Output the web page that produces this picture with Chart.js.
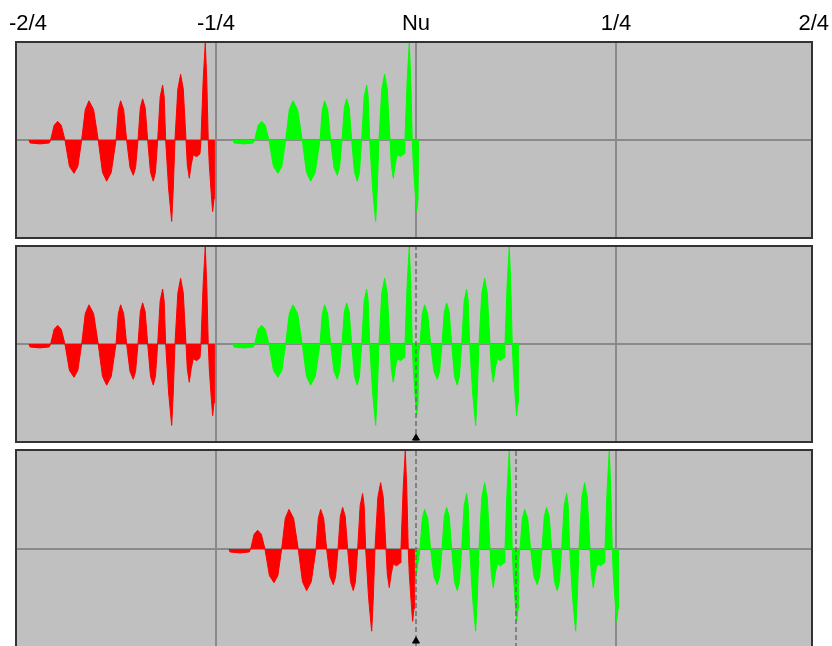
<!DOCTYPE html>
<html>
<head>
<meta charset="utf-8">
<script src="https://cdn.jsdelivr.net/npm/chart.js@4.4.1/dist/chart.umd.min.js"></script>
<style>
  html, body { margin: 0; padding: 0; background: #fff; overflow: hidden; }
  #wrap { position: relative; width: 832px; height: 646px; overflow: hidden; }
  .track { position: absolute; left: 0; }
</style>
</head>
<body>
<div id="wrap">
  <canvas id="track1" class="track" style="top:0" width="832" height="240"></canvas>
  <canvas id="track2" class="track" style="top:244px" width="832" height="200"></canvas>
  <canvas id="track3" class="track" style="top:448px" width="832" height="200"></canvas>
</div>
<script>
// ticks on the time ruler
const tickValues = [-0.5, -0.25, 0, 0.25, 0.5];
const tickLabels = ['-2/4', '-1/4', 'Nu', '1/4', '2/4'];

// the recorded clip: time from clip start and amplitude
const waveT = [0, 0.0013, 0.0138, 0.0254, 0.0271,
  0.0315, 0.0359, 0.0404, 0.0450,
  0.0506, 0.0563, 0.0611, 0.0659,
  0.0704, 0.0750, 0.0808, 0.0866,
  0.0919, 0.0971, 0.1029, 0.1088,
  0.1117, 0.1146, 0.1184, 0.1221,
  0.1263, 0.1304, 0.1333, 0.1363,
  0.1392, 0.1421, 0.1453, 0.1484,
  0.1519, 0.1554, 0.1581, 0.1609,
  0.1640, 0.1671, 0.1690, 0.1709,
  0.1746, 0.1784, 0.1804, 0.1825,
  0.1861, 0.1896, 0.1929, 0.1963,
  0.1979, 0.2004, 0.2029, 0.2054, 0.2096, 0.2138, 0.2150,
  0.2177, 0.2204, 0.2223, 0.2241,
  0.2254, 0.2279, 0.2296, 0.2313, 0.2321];
const waveA = [0, -0.03, -0.04, -0.03, 0,
  0.15, 0.19, 0.15, 0,
  -0.27, -0.34, -0.27, 0,
  0.31, 0.40, 0.31, 0,
  -0.33, -0.42, -0.33, 0,
  0.31, 0.40, 0.31, 0,
  -0.28, -0.36, -0.28, 0,
  0.33, 0.42, 0.33, 0,
  -0.33, -0.42, -0.33, 0,
  0.44, 0.56, 0.44, 0,
  -0.50, -0.83, -0.50, 0,
  0.52, 0.67, 0.52, 0,
  -0.25, -0.39, -0.25, -0.15, -0.17, -0.14, 0,
  0.60, 0.99, 0.60, 0,
  -0.25, -0.55, -0.73, -0.60, 0];
// repeated (looped) part of the clip starts here
const tailFrom = 0.1025;

// clip positions per track
const redStarts = [[-0.4838], [-0.4838], [-0.2338]];
const greenStarts = [[-0.2288], [-0.2288], []];
const greenTailStarts = [[], [-0.1038], [-0.1038, 0.0212]];
const dashLines = [[], [0], [0, 0.125]];
const markerX = [[], [0], [0]];
const markerY = [[], [-0.96], [-0.93]];

const RED = '#ff0000';
const GREEN = '#00ff00';
const GRID = '#8a8a8a';

function clipPoints(start, from) {
  const pts = [];
  waveT.forEach((t, i) => {
    if (t >= from) pts.push({ x: start + t, y: waveA[i] });
  });
  return pts;
}

function waveSet(pts, col) {
  return {
    data: pts, borderColor: col, backgroundColor: col, borderWidth: 1,
    fill: 'origin', pointRadius: 0, tension: 0
  };
}

// grey track background + dark frame
const panelFrame = {
  id: 'panelFrame',
  beforeDraw(chart) {
    const { ctx, chartArea: a } = chart;
    ctx.save();
    ctx.fillStyle = '#c0c0c0';
    ctx.fillRect(a.left, a.top, a.right - a.left, a.bottom - a.top);
    ctx.restore();
  },
  afterDraw(chart) {
    const { ctx, chartArea: a } = chart;
    ctx.save();
    ctx.strokeStyle = '#333333';
    ctx.lineWidth = 2;
    ctx.strokeRect(a.left, a.top, a.right - a.left, a.bottom - a.top);
    ctx.restore();
  }
};

// ruler labels above the first track, kept inside the canvas at the ends
const rulerLabels = {
  id: 'rulerLabels',
  afterDraw(chart) {
    const { ctx } = chart;
    const sx = chart.scales.x;
    ctx.save();
    ctx.font = '22px "Liberation Sans", Arial, sans-serif';
    ctx.fillStyle = '#000';
    ctx.textBaseline = 'alphabetic';
    tickValues.forEach((v, k) => {
      const w = ctx.measureText(tickLabels[k]).width;
      let left = sx.getPixelForValue(v) - w / 2;
      left = Math.max(9, Math.min(left, chart.width - 3 - w));
      ctx.fillText(tickLabels[k], left, 30);
    });
    ctx.restore();
  }
};

function makeTrack(id, i) {
  const first = i === 0;
  const datasets = [];

  // clip boundary markers and dashed lines on top
  markerX[i].forEach((x, k) => datasets.push({
    data: [{ x: x, y: markerY[i][k] }], showLine: false,
    pointStyle: 'triangle', pointRadius: 4,
    backgroundColor: '#000', borderColor: '#000'
  }));
  dashLines[i].forEach(x => datasets.push({
    data: [{ x: x, y: -1 }, { x: x, y: 1 }],
    borderColor: '#6e6e6e', borderWidth: 1.5, borderDash: [5, 3],
    pointRadius: 0, fill: false
  }));

  redStarts[i].forEach(s => datasets.push(waveSet(clipPoints(s, 0), RED)));
  greenStarts[i].forEach(s => datasets.push(waveSet(clipPoints(s, 0), GREEN)));
  greenTailStarts[i].forEach(s => datasets.push(waveSet(clipPoints(s, tailFrom), GREEN)));

  return new Chart(document.getElementById(id), {
    type: 'line',
    data: { datasets },
    options: {
      responsive: false,
      animation: false,
      layout: {
        autoPadding: false,
        padding: { left: 16, right: 20, top: first ? 0 : 2, bottom: i === 2 ? 0 : 2 }
      },
      plugins: { legend: { display: false }, tooltip: { enabled: false } },
      scales: {
        x: {
          type: 'linear', position: 'top', min: -0.5, max: 0.495, z: 1,
          afterBuildTicks: s => { s.ticks = tickValues.map(v => ({ value: v })); },
          afterFit: s => {
            s.height = first ? 42 : 0;
            s.paddingLeft = s.paddingRight = s.paddingTop = s.paddingBottom = 0;
          },
          grid: {
            lineWidth: 2, drawTicks: false,
            color: c => {
              const v = c.tick && c.tick.value;
              if (v === -0.5 || v === 0.5 || dashLines[i].includes(v)) return 'transparent';
              return GRID;
            }
          },
          border: { display: false },
          ticks: { display: false }
        },
        y: {
          min: -1, max: 1, z: 1,
          afterBuildTicks: s => { s.ticks = [{ value: 0 }]; },
          afterFit: s => {
            s.width = 0;
            s.paddingLeft = s.paddingRight = s.paddingTop = s.paddingBottom = 0;
          },
          grid: { color: GRID, lineWidth: 2, drawTicks: false },
          border: { display: false },
          ticks: { display: false }
        }
      }
    },
    plugins: first ? [panelFrame, rulerLabels] : [panelFrame]
  });
}

makeTrack('track1', 0);
makeTrack('track2', 1);
makeTrack('track3', 2);
</script>
</body>
</html>
